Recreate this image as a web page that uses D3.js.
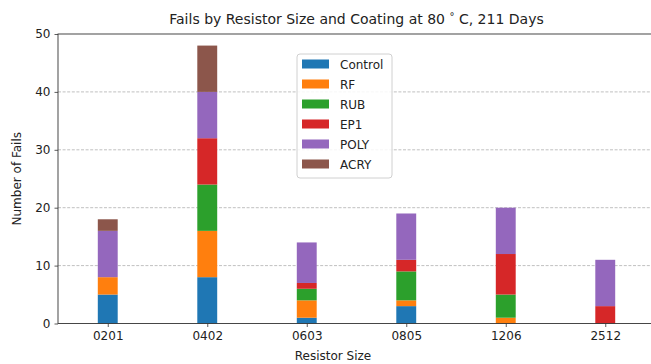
<!DOCTYPE html>
<html>
<head>
<meta charset="utf-8">
<script src="https://cdn.jsdelivr.net/npm/d3@7"></script>
<style>
  html, body { margin: 0; padding: 0; background: #fff; }
  svg { display: block; font-family: "DejaVu Sans", sans-serif; }
</style>
</head>
<body>
<svg id="chart" width="651" height="364"></svg>
<script>
// Resistor sizes along the x axis
const sizes = ["0201", "0402", "0603", "0805", "1206", "2512"];

// Coatings, stacked bottom to top
const coatings = ["Control", "RF", "RUB", "EP1", "POLY", "ACRY"];
const coatingColors = ["#1f77b4", "#ff7f0e", "#2ca02c", "#d62728", "#9467bd", "#8c564b"];

// Fail counts per coating, one value per resistor size
const control = [5, 8, 1, 3, 0, 0];
const rf      = [3, 8, 3, 1, 1, 0];
const rub     = [0, 8, 2, 5, 4, 0];
const ep1     = [0, 8, 1, 2, 7, 3];
const poly    = [8, 8, 7, 8, 8, 8];
const acry    = [2, 8, 0, 0, 0, 0];

const yTicks = [0, 10, 20, 30, 40, 50];

const seriesValues = [control, rf, rub, ep1, poly, acry];
const rows = sizes.map((s, i) => {
  const r = { size: s, idx: i };
  coatings.forEach((c, k) => { r[c] = seriesValues[k][i]; });
  return r;
});
const stacked = d3.stack().keys(coatings)(rows);

const svg = d3.select("#chart");
const plotL = 58, plotR = 655, plotT = 34, plotB = 323.5;

const x = d3.scaleLinear().domain([-0.5, 5.5]).range([plotL, plotR]);
const y = d3.scaleLinear().domain([0, 50]).range([plotB, plotT]);
const barW = x(0.2) - x(0);

// horizontal dashed grid
svg.append("g").selectAll("line").data(yTicks.filter(t => t > 0 && t < 50)).join("line")
  .attr("x1", plotL).attr("x2", plotR)
  .attr("y1", d => y(d)).attr("y2", d => y(d))
  .attr("stroke", "#b0b0b0").attr("stroke-width", 0.8)
  .attr("stroke-dasharray", "3,1.6");

// stacked bars
svg.append("g").selectAll("g").data(stacked).join("g")
  .attr("fill", (d, i) => coatingColors[i])
  .selectAll("rect").data(d => d).join("rect")
  .attr("x", d => x(d.data.idx) - barW / 2)
  .attr("width", barW)
  .attr("y", d => y(d[1]))
  .attr("height", d => y(d[0]) - y(d[1]));

// axes
const yAxis = svg.append("g").attr("transform", `translate(${plotL},0)`)
  .call(d3.axisLeft(y).tickValues(yTicks).tickSize(3.5).tickPadding(4));
const xAxis = svg.append("g").attr("transform", `translate(0,${plotB})`)
  .call(d3.axisBottom(x).tickValues(d3.range(sizes.length)).tickFormat(i => sizes[i]).tickSize(3.5).tickPadding(4));
[yAxis, xAxis].forEach(a => {
  a.select(".domain").remove();
  a.selectAll("line").attr("stroke", "#333").attr("stroke-width", 0.8);
  a.selectAll("text").attr("fill", "#222").style("font-size", "12px").style("font-family", "DejaVu Sans, sans-serif");
});

// spines
svg.append("rect").attr("x", plotL).attr("y", plotT)
  .attr("width", plotR - plotL).attr("height", plotB - plotT)
  .attr("fill", "none").attr("stroke", "#333").attr("stroke-width", 0.9);

// title
const title = svg.append("text").attr("x", (plotL + plotR) / 2).attr("y", 24)
  .attr("text-anchor", "middle").attr("fill", "#222").style("font-size", "14px");
title.append("tspan").text("Fails by Resistor Size and Coating at 80 ");
title.append("tspan").text("°").style("font-size", "10px").attr("dy", -4);
title.append("tspan").text(" C, 211 Days").attr("dy", 4);

// axis labels
svg.append("text").attr("x", 333).attr("y", 360).attr("text-anchor", "middle")
  .attr("fill", "#222").style("font-size", "12px").text("Resistor Size");
svg.append("text").attr("transform", `translate(21,${(plotT + plotB) / 2}) rotate(-90)`)
  .attr("text-anchor", "middle").attr("fill", "#222").style("font-size", "12px").text("Number of Fails");

// legend
const lg = svg.append("g").attr("transform", "translate(297,54)");
lg.append("rect").attr("width", 95).attr("height", 124).attr("rx", 3)
  .attr("fill", "#fff").attr("fill-opacity", 0.85).attr("stroke", "#d0d0d0").attr("stroke-width", 1);
coatings.forEach((c, i) => {
  const row = lg.append("g").attr("transform", `translate(0,${10 + i * 20})`);
  row.append("rect").attr("x", 5).attr("y", -4.5).attr("width", 27).attr("height", 9).attr("fill", coatingColors[i]);
  row.append("text").attr("x", 43).attr("y", 4.5).attr("fill", "#222").style("font-size", "12px").text(c);
});
</script>
</body>
</html>
